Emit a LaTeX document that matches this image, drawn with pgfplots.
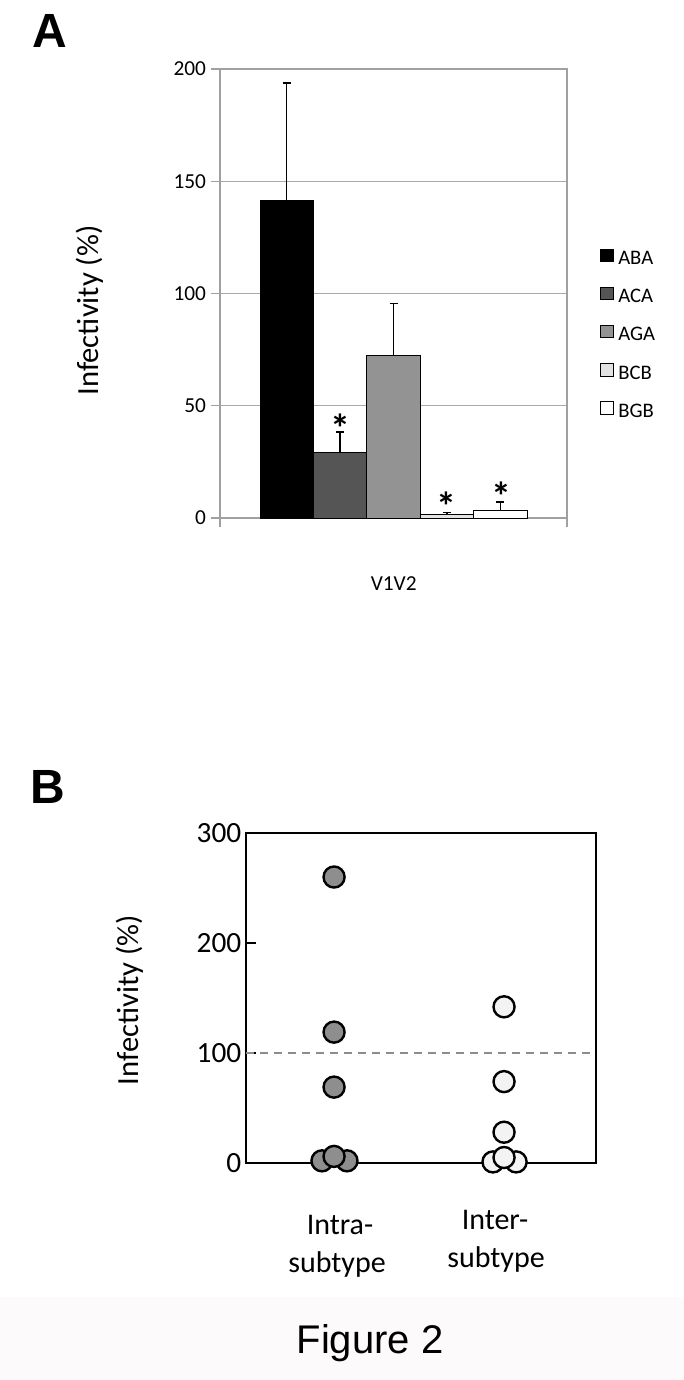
\documentclass[border=0pt]{standalone}
\usepackage{fontspec}
\setmainfont{Carlito}
\newfontfamily\arial{Liberation Sans}
\usepackage{pgfplots}
\pgfplotsset{compat=1.18}

\definecolor{cABA}{HTML}{000000}
\definecolor{cACA}{HTML}{555555}
\definecolor{cAGA}{HTML}{939393}
\definecolor{cBCB}{HTML}{E2E2E2}
\definecolor{cBGB}{HTML}{FFFFFF}
\definecolor{axgray}{HTML}{A0A0A0}
\definecolor{grgray}{HTML}{AAAAAA}
\definecolor{intra}{HTML}{8E8E8E}
\definecolor{inter}{HTML}{F3F3F3}
\definecolor{band}{HTML}{FCFAFB}

\begin{document}
\begin{tikzpicture}
\path[use as bounding box, fill=white] (0pt,0pt) rectangle (513pt,-1035pt);
\fill[band] (0pt,-972.75pt) rectangle (513pt,-1035pt);

% panel labels
\node[anchor=base west, inner sep=0pt, font=\arial\bfseries\fontsize{36}{40}\selectfont] at (24.5pt,-36pt) {A};
\node[anchor=base west, inner sep=0pt, font=\arial\bfseries\fontsize{36}{40}\selectfont] at (23pt,-602.25pt) {B};

% ---------------- panel A ----------------
\begin{axis}[
  at={(165pt,-388.5pt)}, anchor=south west,
  scale only axis, width=260.25pt, height=336.75pt,
  xmin=0, xmax=6.5, ymin=0, ymax=200,
  ytick={0,50,100,150,200},
  xtick={0,6.5}, xticklabels={},
  tick pos=left, tick align=outside, major tick length=7pt,
  axis line style={draw=axgray, line width=0.9pt},
  tick style={draw=axgray, line width=0.9pt},
  ymajorgrids, grid style={draw=grgray, line width=1pt},
  /pgf/number format/assume math mode=true,
  yticklabel style={font=\fontsize{16}{19}\selectfont},
  legend style={at={(1,0.41)}, anchor=west, xshift=24.75pt,
    draw=none, fill=none, inner sep=0pt, row sep=15pt,
    font=\fontsize{15.5}{18}\selectfont,
    nodes={inner sep=0pt}},
  legend cell align=left,
  legend image code/.code={
    \draw[#1, draw=black, line width=0.6pt] (0pt,-2pt) rectangle (9.5pt,7.5pt);
    \path (13pt,0pt);
  },
  clip=false,
]
\pgfplotsset{bar/.style={ybar, bar width=1, bar shift=0pt, draw=black,
  line width=0.6pt, forget plot,
  error bars/y dir=plus, error bars/y explicit,
  error bars/error mark=-,
  error bars/error bar style={black, line width=1.1pt},
  error bars/error mark options={black, rotate=90, line width=1.1pt, mark size=3pt}}}
\addplot[bar, fill=cABA] coordinates {(1.25,141.6) +- (0,52.2)};
\addplot[bar, fill=cACA] coordinates {(2.25,29.2) +- (0,9.2)};
\addplot[bar, fill=cAGA] coordinates {(3.25,72.6) +- (0,23.0)};
\addplot[bar, fill=cBCB] coordinates {(4.25,1.6) +- (0,0.9)};
\addplot[bar, fill=cBGB] coordinates {(5.25,3.6) +- (0,3.5)};

\addlegendimage{fill=cABA}\addlegendentry{ABA}
\addlegendimage{fill=cACA}\addlegendentry{ACA}
\addlegendimage{fill=cAGA}\addlegendentry{AGA}
\addlegendimage{fill=cBCB}\addlegendentry{BCB}
\addlegendimage{fill=cBGB}\addlegendentry{BGB}

\node[anchor=north, inner sep=0pt, font=\bfseries\fontsize{30}{34}\selectfont] at (axis cs:2.26,46.3) {*};
\node[anchor=north, inner sep=0pt, font=\bfseries\fontsize{30}{34}\selectfont] at (axis cs:4.25,11.7) {*};
\node[anchor=north, inner sep=0pt, font=\bfseries\fontsize{30}{34}\selectfont] at (axis cs:5.28,16.0) {*};
\end{axis}

\node[rotate=90, anchor=base, inner sep=0pt, font=\fontsize{23}{27}\selectfont] at (73.7pt,-232.9pt) {Infectivity (\%)};
\node[anchor=base, inner sep=0pt, font=\fontsize{16}{19}\selectfont] at (295.3pt,-443pt) {V1V2};

% ---------------- panel B ----------------
\begin{axis}[
  at={(184.5pt,-872.25pt)}, anchor=south west,
  scale only axis, width=262.5pt, height=247.5pt,
  xmin=0.482, xmax=2.541, ymin=0, ymax=300,
  xtick=\empty, ytick={0,100,200,300},
  ytick pos=left, tick align=inside, major tick length=7.5pt,
  axis line style={black, line width=1.2pt},
  tick style={black, line width=1.5pt},
  /pgf/number format/assume math mode=true,
  yticklabel style={font=\fontsize{22}{26}\selectfont},
  clip=false,
]
\addplot[black!45, line width=1.2pt, dash pattern=on 6pt off 4.5pt]
  coordinates {(0.482,100) (2.541,100)};
\addplot[only marks, mark=*, mark size=7.9pt,
  mark options={fill=intra, draw=black, line width=1.8pt}]
  coordinates {(0.929,2) (1.076,2) (1,6) (1,69) (1,119) (1,260)};
\addplot[only marks, mark=*, mark size=7.9pt,
  mark options={fill=inter, draw=black, line width=1.8pt}]
  coordinates {(1.935,1) (2.071,1) (2,5) (2,28) (2,74) (2,142)};
\end{axis}

\node[rotate=90, anchor=base, inner sep=0pt, font=\fontsize{23}{27}\selectfont] at (103.7pt,-750pt) {Infectivity (\%)};

\node[anchor=base, inner sep=0pt, font=\fontsize{22.5}{27}\selectfont] at (255pt,-925.5pt) {Intra-};
\node[anchor=base, inner sep=0pt, font=\fontsize{22.5}{27}\selectfont] at (252.75pt,-954pt) {subtype};
\node[anchor=base, inner sep=0pt, font=\fontsize{22.5}{27}\selectfont] at (371.25pt,-921.75pt) {Inter-};
\node[anchor=base, inner sep=0pt, font=\fontsize{22.5}{27}\selectfont] at (372pt,-950.25pt) {subtype};

\node[anchor=base, inner sep=0pt, font=\arial\fontsize{30}{34}\selectfont] at (277.5pt,-1014.75pt) {Figure 2};
\end{tikzpicture}
\end{document}
